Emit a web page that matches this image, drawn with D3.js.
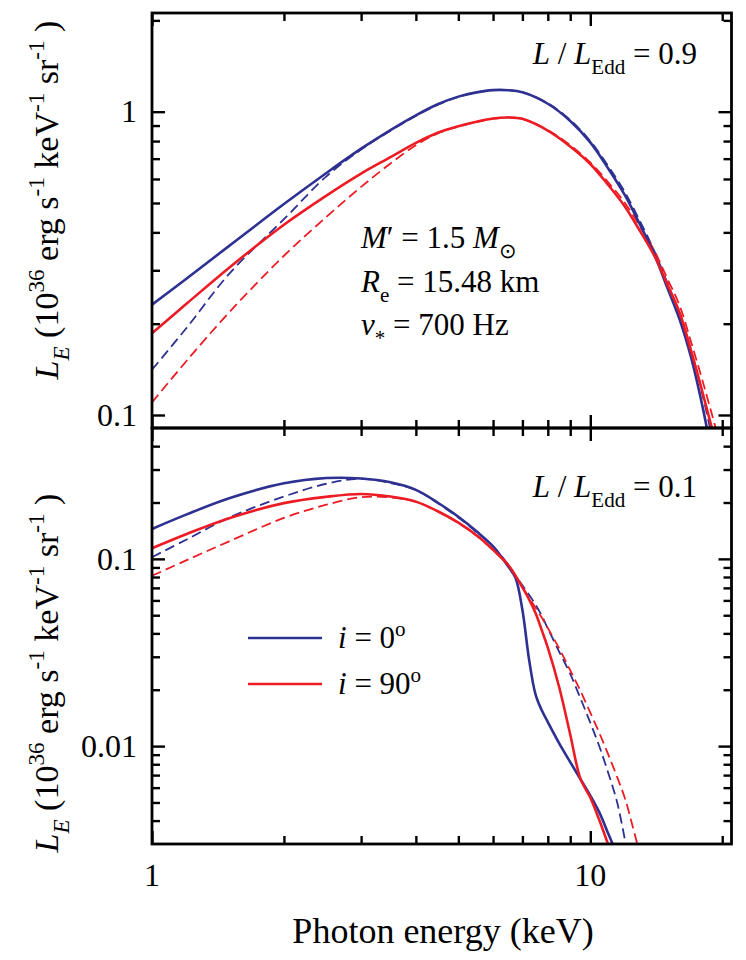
<!DOCTYPE html>
<html><head><meta charset="utf-8">
<script src="https://cdn.jsdelivr.net/npm/d3@7"></script>
<style>
body{margin:0;background:#fff}
svg{display:block}
svg text, svg tspan{font-family:"Liberation Serif","Times New Roman",serif !important;fill:#000}
</style>
</head><body>
<svg id="chart" width="746" height="960"></svg>
<script>
// ---------- data (photon energy in keV, L_E in 1e36 erg/s/keV/sr) ----------
const energyTop = [1, 1.2, 1.5, 2, 2.5, 3, 3.5, 4, 4.5, 5, 5.5, 6, 6.5, 7, 8, 9, 10, 11, 12, 13, 14, 15, 16, 17, 18, 19, 20];
// L/LEdd = 0.9
const topBlueSolid  = [0.231, 0.282, 0.361, 0.496, 0.628, 0.755, 0.870, 0.973, 1.060, 1.121, 1.158, 1.178, 1.177, 1.158, 1.062, 0.932, 0.792, 0.648, 0.530, 0.423, 0.338, 0.262, 0.206, 0.154, 0.108, 0.073, 0.050];
const topBlueDashed = [0.141, 0.194, 0.292, 0.442, 0.612, 0.750, 0.866, 0.968, 1.056, 1.119, 1.158, 1.178, 1.177, 1.159, 1.066, 0.939, 0.800, 0.660, 0.542, 0.434, 0.347, 0.272, 0.215, 0.162, 0.118, 0.083, 0.057];
const topRedSolid   = [0.186, 0.233, 0.306, 0.424, 0.529, 0.625, 0.708, 0.789, 0.854, 0.896, 0.927, 0.950, 0.957, 0.947, 0.866, 0.768, 0.672, 0.572, 0.486, 0.403, 0.335, 0.269, 0.217, 0.162, 0.120, 0.089, 0.066];
const topRedDashed  = [0.110, 0.151, 0.218, 0.335, 0.450, 0.565, 0.675, 0.775, 0.850, 0.893, 0.924, 0.948, 0.957, 0.947, 0.870, 0.775, 0.680, 0.584, 0.500, 0.417, 0.348, 0.281, 0.229, 0.173, 0.131, 0.099, 0.076];

const energyBottom = [1, 1.2, 1.5, 2, 2.5, 3, 3.5, 4, 4.5, 5, 5.5, 6, 6.5, 6.75, 7, 7.25, 7.5, 7.75, 8, 8.5, 9, 9.5, 10, 10.5, 11, 11.5, 12, 12.5, 13, 13.5];
// L/LEdd = 0.1
const botBlueSolid  = [0.1445, 0.1728, 0.2108, 0.2533, 0.2701, 0.2688, 0.2566, 0.2337, 0.1988, 0.1678, 0.1403, 0.1166, 0.0910, 0.0792, 0.0535, 0.0290, 0.0189, 0.01553, 0.01344, 0.01031, 0.00822, 0.00665, 0.00544, 0.00440, 0.00339, 0.00265, 0.00207, 0.00164, 0.00132, 0.00107];
const botBlueDashed = [0.1021, 0.1270, 0.1660, 0.2153, 0.2519, 0.2678, 0.2540, 0.2331, 0.1975, 0.1664, 0.1392, 0.1166, 0.0929, 0.0816, 0.0722, 0.0643, 0.0569, 0.0497, 0.0425, 0.0318, 0.0243, 0.01795, 0.01334, 0.00989, 0.00714, 0.00507, 0.00315, 0.00188, 0.00127, 0.00083];
const botRedSolid   = [0.1140, 0.1359, 0.1650, 0.1985, 0.2145, 0.2222, 0.2153, 0.2022, 0.1791, 0.1561, 0.1336, 0.1118, 0.0927, 0.0812, 0.0704, 0.0608, 0.0514, 0.0416, 0.0336, 0.0205, 0.01154, 0.00668, 0.00531, 0.00399, 0.00296, 0.00223, 0.00170, 0.00132, 0.00102, 0.00081];
const botRedDashed  = [0.0812, 0.0984, 0.1241, 0.1654, 0.1947, 0.2137, 0.2127, 0.2017, 0.1784, 0.1555, 0.1332, 0.1114, 0.0923, 0.0810, 0.0709, 0.0621, 0.0549, 0.0486, 0.0427, 0.0331, 0.0254, 0.01968, 0.01510, 0.01166, 0.00897, 0.00689, 0.00525, 0.00371, 0.00261, 0.00187];

const xMajorTicks = [1, 10];
const xMinorTicks = [2, 3, 4, 5, 6, 7, 8, 9, 20];
const topMajorTicks = [0.1, 1];
const topMinorTicks = [0.2, 0.3, 0.4, 0.5, 0.6, 0.7, 0.8, 0.9, 2];
const botMajorTicks = [0.01, 0.1];
const botMinorTicks = [0.004, 0.005, 0.006, 0.007, 0.008, 0.009, 0.02, 0.03, 0.04, 0.05, 0.06, 0.07, 0.08, 0.09, 0.2, 0.3, 0.4];
const tickLabel = {1: "1", 10: "10", 0.1: "0.1", 0.01: "0.01"};

const BLUE = "#2e3192", RED = "#ed1c24";
const FONT = '"Liberation Serif","Times New Roman",serif';

// ---------- layout ----------
const L = 152, R = 731.5, T = 13, MID = 428, B = 844;
const svg = d3.select("#chart").attr("font-family", FONT);

const x = d3.scaleLog().domain([1, 21]).range([L, R]);
const yTop = d3.scaleLog().domain([0.0906, 2.115]).range([MID, T]);
const yBot = d3.scaleLog().domain([0.003, 0.5]).range([B, MID]);

const defs = svg.append("defs");
defs.append("clipPath").attr("id", "clipTop").append("rect").attr("x", L).attr("y", T).attr("width", R - L).attr("height", MID - T);
defs.append("clipPath").attr("id", "clipBot").append("rect").attr("x", L).attr("y", MID).attr("width", R - L).attr("height", B - MID);

function drawCurves(energies, seriesList, y, clip) {
  const g = svg.append("g").attr("clip-path", `url(#${clip})`);
  const line = d3.line().x(d => x(d[0])).y(d => y(d[1])).curve(d3.curveCatmullRom.alpha(0.5));
  seriesList.forEach(s => {
    const pts = energies.map((e, i) => [e, s.values[i]]);
    g.append("path").attr("d", line(pts)).attr("fill", "none")
      .attr("stroke", s.color).attr("stroke-width", s.dashed ? 1.8 : 2.6)
      .attr("stroke-dasharray", s.dashed ? "10,5" : null)
      .attr("stroke-linejoin", "round");
  });
}

drawCurves(energyTop, [
  {values: topBlueDashed, color: BLUE, dashed: true},
  {values: topRedDashed, color: RED, dashed: true},
  {values: topBlueSolid, color: BLUE, dashed: false},
  {values: topRedSolid, color: RED, dashed: false}
], yTop, "clipTop");

drawCurves(energyBottom, [
  {values: botBlueDashed, color: BLUE, dashed: true},
  {values: botRedDashed, color: RED, dashed: true},
  {values: botBlueSolid, color: BLUE, dashed: false},
  {values: botRedSolid, color: RED, dashed: false}
], yBot, "clipBot");

// ---------- axes ----------
const MAJ = 13, MIN = 8;
function styleAxis(g) {
  g.attr("font-family", FONT);
  g.select(".domain").remove();
  g.selectAll(".tick line").attr("stroke", "#000").attr("stroke-width", 2.4);
  g.selectAll(".tick text").attr("font-size", 32).attr("font-family", FONT).attr("fill", "#000");
}
function addAxis(axisFn, scale, vals, size, transform, labels, pad) {
  const a = axisFn(scale).tickValues(vals).tickSizeInner(-size).tickSizeOuter(0)
    .tickPadding(pad || 10)
    .tickFormat(labels ? (d => tickLabel[d]) : () => "");
  svg.append("g").attr("transform", transform).call(a).call(styleAxis);
}
// y axes
[[yTop, topMajorTicks, topMinorTicks], [yBot, botMajorTicks, botMinorTicks]].forEach(([ys, maj, min]) => {
  addAxis(d3.axisLeft, ys, maj, MAJ, `translate(${L},0)`, true, 15);
  addAxis(d3.axisLeft, ys, min, MIN, `translate(${L},0)`, false);
  addAxis(d3.axisRight, ys, maj, MAJ, `translate(${R},0)`, false);
  addAxis(d3.axisRight, ys, min, MIN, `translate(${R},0)`, false);
});
// x axes: top of top panel, bottom of top panel, top of bottom panel, bottom of bottom panel
[[d3.axisTop, T], [d3.axisBottom, MID], [d3.axisTop, MID], [d3.axisBottom, B]].forEach(([fn, yy]) => {
  addAxis(fn, x, xMajorTicks, MAJ, `translate(0,${yy})`, false);
  addAxis(fn, x, xMinorTicks, MIN, `translate(0,${yy})`, false);
});
// x labels (bottom only)
svg.append("g").selectAll("text").data(xMajorTicks).join("text")
  .attr("font-family", FONT)
  .attr("x", d => x(d)).attr("y", 886).attr("text-anchor", "middle").attr("font-size", 32).text(d => tickLabel[d]);

// frames
[[T, MID], [MID, B]].forEach(([a, b]) => {
  svg.append("rect").attr("x", L).attr("y", a).attr("width", R - L).attr("height", b - a)
    .attr("fill", "none").attr("stroke", "#000").attr("stroke-width", 2.8);
});

// ---------- rich text helper ----------
function rich(parent, segs, size, attrs) {
  const t = parent.append("text").attr("font-size", size).attr("font-family", FONT);
  Object.entries(attrs || {}).forEach(([k, v]) => t.attr(k, v));
  let off = 0;
  segs.forEach(s => {
    const sp = t.append("tspan").text(s.t);
    let target = 0, fs = size;
    if (s.sub) { target = size * 0.32; fs = size * 0.68; }
    if (s.sup) { target = -size * 0.4; fs = size * 0.68; }
    sp.attr("dy", target - off).attr("font-size", fs);
    off = target;
    if (s.i) sp.attr("font-style", "italic");
  });
  return t;
}

// y-axis titles
const yTitle = [
  {t: "L", i: true}, {t: "E", i: true, sub: true}, {t: " (10"}, {t: "36", sup: true},
  {t: " erg s"}, {t: "-1", sup: true}, {t: " keV"}, {t: "-1", sup: true},
  {t: " sr"}, {t: "-1", sup: true}, {t: " )"}
];
[200, 673].forEach(cy => {
  rich(svg, yTitle, 34, {"text-anchor": "middle", transform: `translate(58,${cy}) rotate(-90)`});
});

// x-axis title
svg.append("text").attr("font-family", FONT).attr("x", 443).attr("y", 943).attr("text-anchor", "middle").attr("font-size", 36).text("Photon energy (keV)");

// panel annotations
rich(svg, [{t: "L", i: true}, {t: " / "}, {t: "L", i: true}, {t: "Edd", sub: true}, {t: " = 0.9"}], 31, {"text-anchor": "end", x: 697, y: 64});
rich(svg, [{t: "L", i: true}, {t: " / "}, {t: "L", i: true}, {t: "Edd", sub: true}, {t: " = 0.1"}], 31, {"text-anchor": "end", x: 697, y: 497});

rich(svg, [{t: "M", i: true}, {t: "′ = 1.5 "}, {t: "M", i: true}, {t: "⊙", sub: true}], 31, {x: 361, y: 248});
rich(svg, [{t: "R", i: true}, {t: "e", sub: true}, {t: " = 15.48 km"}], 31, {x: 361, y: 292});
rich(svg, [{t: "ν", i: true}, {t: "*", sub: true}, {t: " = 700 Hz"}], 31, {x: 361, y: 335});

// legend
const legend = [{label: "0", color: BLUE, y: 638}, {label: "90", color: RED, y: 684}];
legend.forEach(d => {
  svg.append("line").attr("x1", 248).attr("x2", 322).attr("y1", d.y).attr("y2", d.y)
    .attr("stroke", d.color).attr("stroke-width", 2.6);
  rich(svg, [{t: "i", i: true}, {t: " = " + d.label}, {t: "o", sup: true}], 31, {x: 338, y: d.y + 10});
});
</script>
</body></html>
